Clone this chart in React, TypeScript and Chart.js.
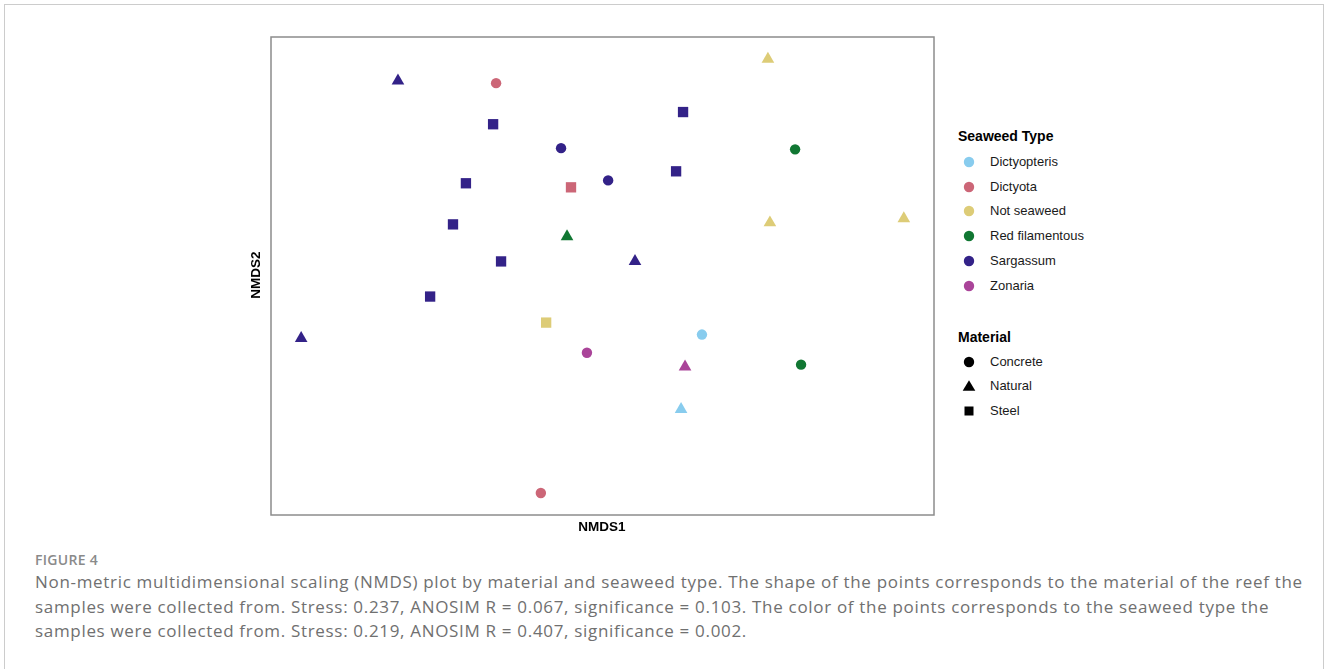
import React, { useEffect, useRef } from "react";
import { Chart, registerables } from "chart.js";

Chart.register(...registerables);

// ---- Data ----
const seaweedTypes = ["Dictyopteris", "Dictyota", "Not seaweed", "Red filamentous", "Sargassum", "Zonaria"];
const seaweedColors = ["#88CCEE", "#CC6677", "#DDCC77", "#117733", "#332288", "#AA4499"];
const materials = ["Concrete", "Natural", "Steel"];
const materialStyles = ["circle", "triangle", "rect"];
const materialRadius = [5.2, 7.3, 7.3];

// sample coordinates (NMDS1, NMDS2), seaweed type and material of each sample
const nmds1 = [-0.617, -0.321, -0.330, -0.125, -0.412, -0.095, 0.017, -0.451, -0.107, -0.306, 0.243, 0.222, 0.499, 0.581, 0.505, 0.909, 0.098, -0.520, -0.170, -0.909, -0.047, -0.186, 0.300, 0.249, 0.599, 0.237];
const nmds2 = [0.817, 0.807, 0.635, 0.535, 0.388, 0.371, 0.400, 0.216, 0.165, 0.061, 0.686, 0.438, 0.908, 0.530, 0.223, 0.240, 0.061, -0.086, -0.195, -0.261, -0.321, -0.908, -0.245, -0.380, -0.371, -0.558];
const sampleSeaweed = ["Sargassum", "Dictyota", "Sargassum", "Sargassum", "Sargassum", "Dictyota", "Sargassum", "Sargassum", "Red filamentous", "Sargassum", "Sargassum", "Sargassum", "Not seaweed", "Red filamentous", "Not seaweed", "Not seaweed", "Sargassum", "Sargassum", "Not seaweed", "Sargassum", "Zonaria", "Dictyota", "Dictyopteris", "Zonaria", "Red filamentous", "Dictyopteris"];
const sampleMaterial = ["Natural", "Concrete", "Steel", "Concrete", "Steel", "Steel", "Concrete", "Steel", "Natural", "Steel", "Steel", "Steel", "Natural", "Concrete", "Natural", "Natural", "Natural", "Steel", "Steel", "Natural", "Concrete", "Concrete", "Concrete", "Natural", "Concrete", "Natural"];

const axisTitleX = "NMDS1";
const axisTitleY = "NMDS2";
const legendTitleColor = "Seaweed Type";
const legendTitleShape = "Material";
const figureLabel = "FIGURE 4";
const captionLines = [
  "Non-metric multidimensional scaling (NMDS) plot by material and seaweed type. The shape of the points corresponds to the material of the reef the",
  "samples were collected from. Stress: 0.237, ANOSIM R = 0.067, significance = 0.103. The color of the points corresponds to the seaweed type the",
  "samples were collected from. Stress: 0.219, ANOSIM R = 0.407, significance = 0.002.",
];

const framePlugin = {
  id: "frame",
  beforeDatasetsDraw(chart: any) {
    const { ctx, chartArea } = chart;
    ctx.save();
    ctx.strokeStyle = "#8c8c8c";
    ctx.lineWidth = 1.5;
    ctx.strokeRect(chartArea.left, chartArea.top, chartArea.right - chartArea.left, chartArea.bottom - chartArea.top);
    ctx.restore();
  },
};

function Marker({ shape, color }: { shape: string; color: string }) {
  return (
    <svg width={14} height={14} style={{ position: "absolute", left: -7, top: -7 }}>
      {shape === "circle" && <circle cx={7} cy={7} r={5.2} fill={color} />}
      {shape === "triangle" && <polygon points="7,1.2 13.3,11.8 0.7,11.8" fill={color} />}
      {shape === "rect" && <rect x={2.5} y={2.5} width={9} height={9} fill={color} />}
    </svg>
  );
}

export default function App() {
  const canvasRef = useRef<HTMLCanvasElement | null>(null);

  useEffect(() => {
    const datasets = seaweedTypes.map((type, ti) => {
      const pts: any[] = [];
      nmds1.forEach((x, i) => {
        if (sampleSeaweed[i] === type) pts.push({ x, y: nmds2[i], m: materials.indexOf(sampleMaterial[i]) });
      });
      return {
        label: type,
        data: pts,
        backgroundColor: seaweedColors[ti],
        borderColor: seaweedColors[ti],
        pointBackgroundColor: seaweedColors[ti],
        pointBorderWidth: 0,
        pointStyle: (c: any) => materialStyles[c.raw ? c.raw.m : 0],
        pointRadius: (c: any) => materialRadius[c.raw ? c.raw.m : 0],
        pointHoverRadius: (c: any) => materialRadius[c.raw ? c.raw.m : 0],
      };
    });
    const chart = new Chart(canvasRef.current as HTMLCanvasElement, {
      type: "scatter",
      data: { datasets } as any,
      options: {
        animation: false,
        responsive: false,
        layout: { padding: 11 },
        scales: {
          x: { type: "linear", min: -1, max: 1, display: false },
          y: { type: "linear", min: -1, max: 1, display: false },
        },
        plugins: { legend: { display: false }, tooltip: { enabled: false } },
      } as any,
      plugins: [framePlugin],
    });
    return () => chart.destroy();
  }, []);

  const legendFont = "'Liberation Sans', Arial, sans-serif";
  const itemY1 = [161.5, 186.5, 211, 236, 260.5, 285.5];
  const itemY2 = [361.5, 386, 410.5];

  return (
    <div style={{ position: "absolute", left: 0, top: 0, width: 1328, height: 669, overflow: "hidden", background: "#fff" }}>
      <div style={{ position: "absolute", left: 4, top: 4, width: 1320, height: 720, border: "1px solid #cccccc", boxSizing: "border-box" }} />
      <canvas ref={canvasRef} width={685} height={500} style={{ position: "absolute", left: 260, top: 26, width: 685, height: 500 }} />
      {/* axis titles */}
      <div style={{ position: "absolute", left: 502, width: 200, top: 519, height: 16, lineHeight: "16px", textAlign: "center", fontFamily: legendFont, fontWeight: "bold", fontSize: 13.5, color: "#000" }}>{axisTitleX}</div>
      <div style={{ position: "absolute", left: 156, width: 200, top: 267, height: 16, lineHeight: "16px", textAlign: "center", fontFamily: legendFont, fontWeight: "bold", fontSize: 13.5, color: "#000", transform: "rotate(-90deg)" }}>{axisTitleY}</div>
      {/* legend */}
      <div style={{ position: "absolute", left: 958, top: 128, height: 16, lineHeight: "16px", fontFamily: legendFont, fontWeight: "bold", fontSize: 14, color: "#000", whiteSpace: "nowrap" }}>{legendTitleColor}</div>
      {seaweedTypes.map((t, i) => (
        <div key={t} style={{ position: "absolute", left: 0, top: itemY1[i] }}>
          <div style={{ position: "absolute", left: 969, top: 0 }}><Marker shape="circle" color={seaweedColors[i]} /></div>
          <div style={{ position: "absolute", left: 990, top: -8, height: 16, lineHeight: "16px", fontFamily: legendFont, fontSize: 13, color: "#1a1a1a", whiteSpace: "nowrap" }}>{t}</div>
        </div>
      ))}
      <div style={{ position: "absolute", left: 958, top: 329, height: 16, lineHeight: "16px", fontFamily: legendFont, fontWeight: "bold", fontSize: 14, color: "#000", whiteSpace: "nowrap" }}>{legendTitleShape}</div>
      {materials.map((m, i) => (
        <div key={m} style={{ position: "absolute", left: 0, top: itemY2[i] }}>
          <div style={{ position: "absolute", left: 969, top: 0 }}><Marker shape={materialStyles[i]} color="#000" /></div>
          <div style={{ position: "absolute", left: 990, top: -8, height: 16, lineHeight: "16px", fontFamily: legendFont, fontSize: 13, color: "#1a1a1a", whiteSpace: "nowrap" }}>{m}</div>
        </div>
      ))}
      {/* caption */}
      <div style={{ position: "absolute", left: 35, top: 550, height: 20, lineHeight: "20px", fontFamily: "'Open Sans', sans-serif", fontWeight: 600, fontSize: 14, letterSpacing: 0.3, color: "#8a8a8a", whiteSpace: "nowrap" }}>{figureLabel}</div>
      <div style={{ position: "absolute", left: 35, top: 570, fontFamily: "'Open Sans', sans-serif", fontSize: 17, letterSpacing: 0.68, lineHeight: "24.5px", color: "#707070", whiteSpace: "nowrap" }}>
        {captionLines.map((l, i) => (<div key={i}>{l}</div>))}
      </div>
    </div>
  );
}
